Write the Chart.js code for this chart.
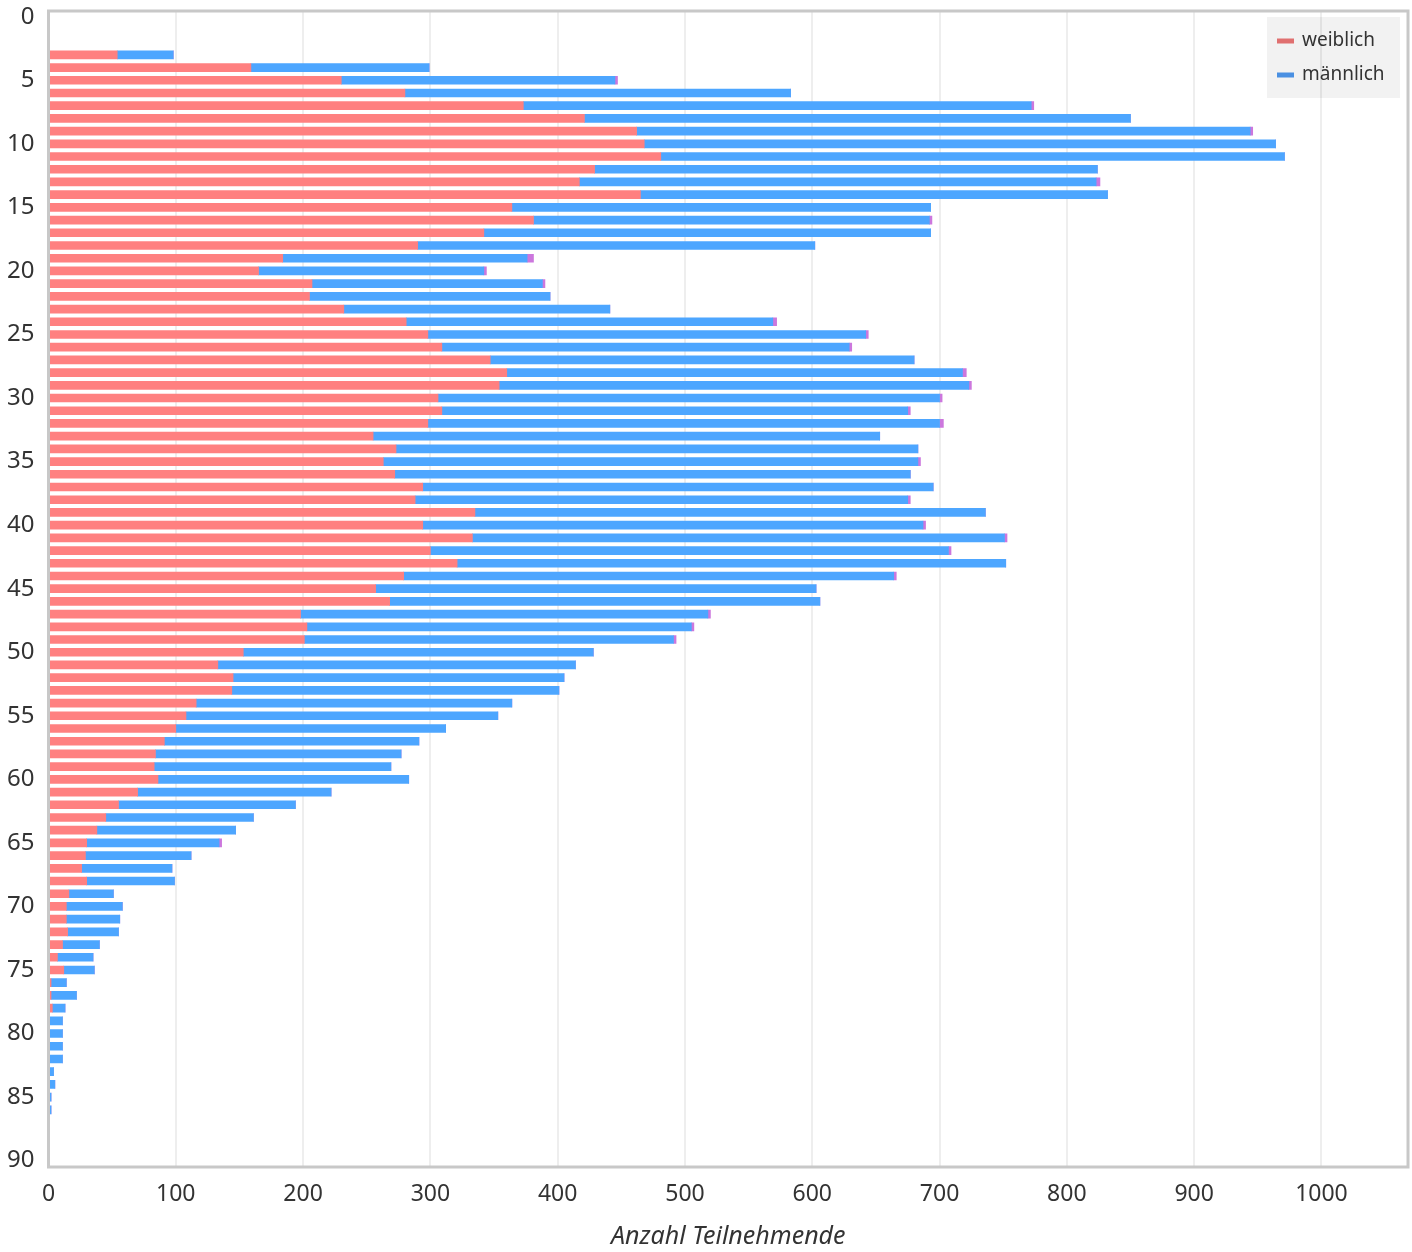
<!DOCTYPE html>
<html>
<head>
<meta charset="utf-8">
<script src="https://cdn.jsdelivr.net/npm/chart.js@4/dist/chart.umd.min.js"></script>
<style>
    html, body { margin: 0; padding: 0; background: #fff; }
    #wrap { width: 1412px; height: 1252px; }
</style>
</head>
<body>
<div id="wrap"><canvas id="age-chart"></canvas></div>
<script>
const ages = [3, 4, 5, 6, 7, 8, 9, 10, 11, 12, 13, 14, 15, 16, 17, 18, 19, 20,
    21, 22, 23, 24, 25, 26, 27, 28, 29, 30, 31, 32, 33, 34, 35, 36, 37, 38,
    39, 40, 41, 42, 43, 44, 45, 46, 47, 48, 49, 50, 51, 52, 53, 54, 55, 56,
    57, 58, 59, 60, 61, 62, 63, 64, 65, 66, 67, 68, 69, 70, 71, 72, 73, 74,
    75, 76, 77, 78, 79, 80, 81, 82, 83, 84, 85, 86];
const female = [54, 159, 230, 280, 373, 421, 462, 468, 481, 429, 417, 465, 364,
    381, 342, 290, 184, 165, 207, 205, 232, 281, 298, 309, 347, 360, 354, 306,
    309, 298, 255, 273, 263, 272, 294, 288, 335, 294, 333, 300, 321, 279, 257,
    268, 198, 203, 201, 153, 133, 145, 144, 116, 108, 100, 91, 84, 83, 86, 70,
    55, 45, 38, 30, 29, 26, 30, 16, 14, 14, 15, 11, 7, 12, 2, 2, 3, 0, 0, 0,
    0, 0, 0, 0, 0];
const male = [44, 140, 215, 303, 399, 429, 482, 496, 490, 395, 406, 367, 329,
    311, 351, 312, 192, 177, 181, 189, 209, 288, 344, 320, 333, 358, 369, 394,
    366, 402, 398, 410, 420, 405, 401, 387, 401, 393, 418, 407, 431, 385, 346,
    338, 320, 302, 290, 275, 281, 260, 257, 248, 245, 212, 200, 193, 186, 197,
    152, 139, 116, 109, 104, 83, 71, 69, 35, 44, 42, 40, 29, 28, 24, 12, 20,
    10, 11, 11, 11, 11, 4, 5, 2, 2];
const diverse = [0, 0, 2, 0, 2, 0, 2, 0, 0, 0, 3, 0, 0, 2, 0, 0, 5, 2, 2, 0, 0,
    3, 2, 2, 0, 3, 2, 2, 2, 3, 0, 0, 2, 0, 0, 2, 0, 2, 2, 2, 0, 2, 0, 0, 2, 2,
    2, 0, 0, 0, 0, 0, 0, 0, 0, 0, 0, 0, 0, 0, 0, 0, 2, 0, 0, 0, 0, 0, 0, 0, 0,
    0, 0, 0, 0, 0, 0, 0, 0, 0, 0, 0, 0, 0];

const legendItems = [
    { text: 'weiblich', color: '#e07070' },
    { text: 'männlich', color: '#4a90e2' }
];

const fontFamily = "'Noto Sans', 'Open Sans', sans-serif";

// grey frame round the plot area
const frame = {
    id: 'frame',
    afterDatasetsDraw(chart) {
        const { ctx, chartArea: a } = chart;
        ctx.save();
        ctx.strokeStyle = '#c8c8c8';
        ctx.lineWidth = 3;
        ctx.strokeRect(a.left, a.top, a.right - a.left, a.bottom - a.top);
        ctx.restore();
    }
};

// legend box in the top right corner of the plot
const boxLegend = {
    id: 'boxLegend',
    afterDraw(chart) {
        const { ctx, chartArea: a } = chart;
        const w = 133, h = 81;
        const x = a.right - 8 - w;
        const y = a.top + 6;
        ctx.save();
        ctx.fillStyle = 'rgba(0, 0, 0, 0.05)';
        ctx.fillRect(x, y, w, h);
        ctx.font = '19px ' + fontFamily;
        ctx.textBaseline = 'middle';
        legendItems.forEach((item, i) => {
            const cy = y + 24 + i * 34;
            ctx.fillStyle = item.color;
            ctx.fillRect(x + 10, cy - 2.5, 17, 5);
            ctx.fillStyle = '#333';
            ctx.fillText(item.text, x + 35, cy);
        });
        ctx.restore();
    }
};

const ageCanvas = document.getElementById('age-chart');
let ageChart = new Chart(ageCanvas, {
    type: 'bar',
    data: {
        labels: ages,
        datasets: [{
            label: 'weiblich',
            data: female,
            backgroundColor: '#ff8080',
            borderWidth: 0,
            barThickness: 8
        }, {
            label: 'männlich',
            data: male,
            backgroundColor: '#4da6ff',
            borderWidth: 0,
            barThickness: 8
        }, {
            label: 'divers',
            data: diverse,
            backgroundColor: '#cc77dd',
            borderWidth: 0,
            barThickness: 8
        }]
    },
    options: {
        indexAxis: 'y',
        responsive: true,
        maintainAspectRatio: false,
        animation: false,
        layout: {
            padding: { top: 11, right: 4, left: 0, bottom: 0 }
        },
        scales: {
            x: {
                type: 'linear',
                stacked: true,
                min: 0,
                max: 1068,
                border: { display: false },
                grid: {
                    color: '#eeeeee',
                    lineWidth: 2,
                    drawTicks: false
                },
                ticks: {
                    stepSize: 100,
                    includeBounds: false,
                    padding: 14,
                    color: '#333',
                    font: { family: fontFamily, size: 23 },
                    callback: (v) => String(v)
                },
                title: {
                    display: true,
                    text: 'Anzahl Teilnehmende',
                    color: '#333',
                    padding: { top: 8, bottom: 0 },
                    font: { family: fontFamily, size: 25, style: 'italic' }
                },
                afterFit(scale) {
                    scale.height = 85;
                    scale.paddingLeft = 0;
                    scale.paddingRight = 0;
                }
            },
            y: {
                type: 'linear',
                stacked: true,
                reverse: true,
                offset: false,
                min: -0.45,
                max: 90.5,
                border: { display: false },
                grid: { display: false, drawTicks: false, offset: false },
                ticks: {
                    stepSize: 5,
                    includeBounds: false,
                    padding: 14,
                    color: '#333',
                    font: { family: fontFamily, size: 24 }
                },
                afterFit(scale) {
                    scale.width = 48.5;
                    scale.paddingTop = 0;
                    scale.paddingBottom = 0;
                }
            }
        },
        plugins: {
            legend: { display: false },
            tooltip: { enabled: false }
        }
    },
    plugins: [frame, boxLegend]
});
</script>
</body>
</html>
